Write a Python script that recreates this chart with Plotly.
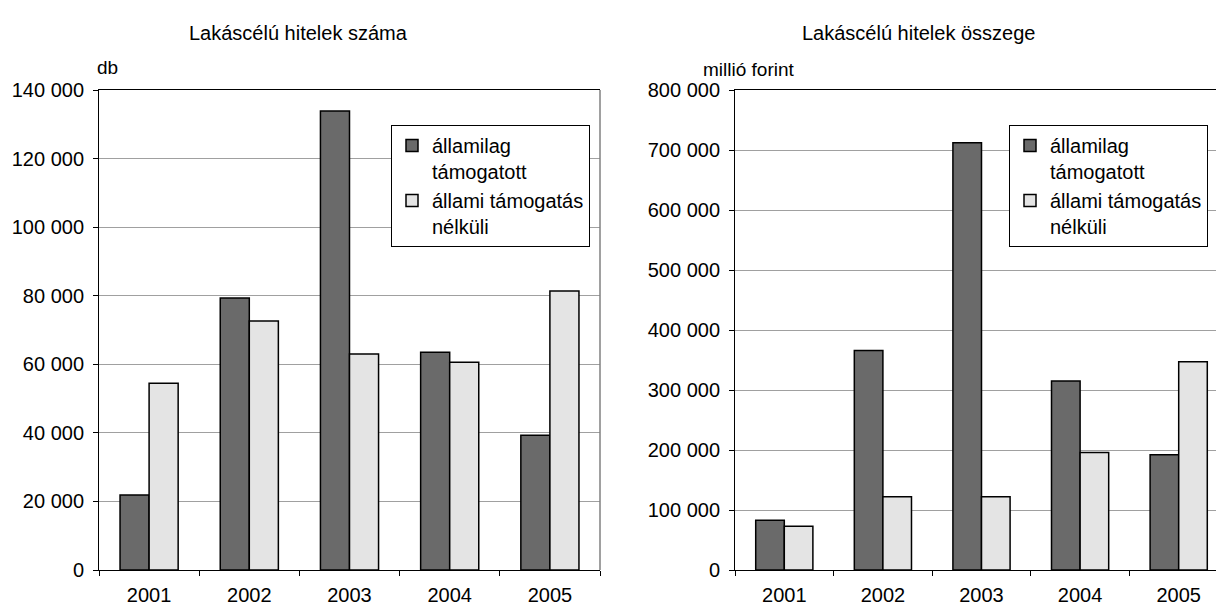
import plotly.graph_objects as go

years = ["2001", "2002", "2003", "2004", "2005"]
count_supported = [21900, 79300, 133900, 63500, 39300]
count_unsupported = [54500, 72600, 63000, 60600, 81400]
amount_supported = [83000, 366000, 712000, 315000, 192000]
amount_unsupported = [73000, 122000, 122000, 196000, 347000]

name_a = "államilag<br>támogatott"
name_b = "állami támogatás<br>nélküli"
dark = "#6a6a6a"
light = "#e4e4e4"
W, H = 1216, 608
FONT = "Liberation Sans, Arial, sans-serif"

fig = go.Figure()
for vals, nm, col, xa, ya, lg in [
    (count_supported, name_a, dark, "x", "y", "legend"),
    (count_unsupported, name_b, light, "x", "y", "legend"),
    (amount_supported, name_a, dark, "x2", "y2", "legend2"),
    (amount_unsupported, name_b, light, "x2", "y2", "legend2"),
]:
    fig.add_trace(go.Bar(x=years, y=vals, name=nm, xaxis=xa, yaxis=ya, legend=lg,
                         marker=dict(color=col, line=dict(color="black", width=1.5))))

ydom = [(H - 570) / H, (H - 90) / H]
axis_common = dict(showline=True, linecolor="black", linewidth=1, ticks="outside",
                   tickcolor="black", ticklen=5, automargin=False,
                   tickfont=dict(size=20, color="black", family=FONT))
xax = dict(type="category", tickson="boundaries", mirror=True, showgrid=False,
           ticklabelstandoff=7, **axis_common)
yax = dict(tickformat=",d", showgrid=True, gridcolor="#a0a0a0", gridwidth=1, zeroline=False,
           ticklabelstandoff=5, **axis_common)
leg_common = dict(yanchor="top", xanchor="left", bordercolor="black", borderwidth=1,
                  bgcolor="white", valign="top", font=dict(size=20), tracegroupgap=11,
                  itemwidth=30)
fig.update_layout(
    width=W, height=H, margin=dict(l=0, r=0, t=0, b=0, pad=0, autoexpand=False),
    paper_bgcolor="white", plot_bgcolor="white",
    separators=", ", barmode="group", bargap=0.42, bargroupgap=0,
    font=dict(family=FONT, color="black", size=20),
    xaxis=dict(domain=[99 / W, 600 / W], anchor="y", range=[-0.5, 4.5], **xax),
    yaxis=dict(domain=ydom, anchor="x", range=[0, 140000], dtick=20000, **yax),
    xaxis2=dict(domain=[735 / W, 1.0], anchor="y2", range=[-0.5, -0.5 + (W - 735) / 98.6], **xax),
    yaxis2=dict(domain=ydom, anchor="x2", range=[0, 800000], dtick=100000, **yax),
    legend=dict(x=391 / W, y=(H - 125) / H, **leg_common),
    legend2=dict(x=1009 / W, y=(H - 125) / H, **leg_common),
    showlegend=True,
)
fig.add_shape(type="line", xref="x domain", yref="y domain", x0=1, x1=1, y0=0, y1=1,
              line=dict(color="#808080", width=1.5))


def label(text, x, y, size):
    fig.add_annotation(text=text, xref="paper", yref="paper", x=x / W, y=(H - y) / H,
                       xanchor="center", yanchor="middle", showarrow=False,
                       font=dict(size=size))


label("Lakáscélú hitelek száma", 298, 33, 20)
label("Lakáscélú hitelek összege", 918, 33, 20)
label("db", 107, 68, 19)
label("millió forint", 749, 69, 19)
fig.write_html("out.html", config={"displayModeBar": False},
               post_script="document.body.style.margin='0';document.body.style.overflow='hidden';")
